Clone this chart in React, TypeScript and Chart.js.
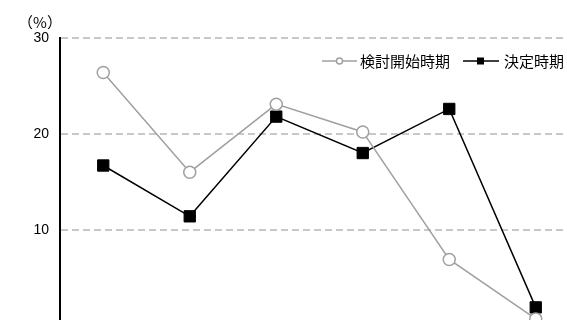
import React, { useEffect, useRef } from "react";
import { Chart, registerables } from "chart.js";

Chart.register(...registerables);

const categories = ["1", "2", "3", "4", "5", "6"];
const kentouValues = [26.4, 16.0, 23.1, 20.2, 6.9, 0.7];
const ketteiValues = [16.7, 11.4, 21.8, 18.0, 22.6, 1.9];
const seriesNames = ["検討開始時期", "決定時期"];
const yTicks = [0, 10, 20, 30];
const yTickLabels = ["", "10", "20", "30"];
const unitLabel = "（%）";

const GRAY = "#a0a0a0";

const overlayPlugin = {
  id: "overlay",
  afterDraw(chart: any) {
    const ctx = chart.ctx;
    ctx.save();
    ctx.fillStyle = "#000";
    ctx.font = "15px 'Noto Sans CJK JP'";
    ctx.textAlign = "center";
    ctx.textBaseline = "middle";
    ctx.fillText(unitLabel, 40, 22);

    const y = 61;
    ctx.strokeStyle = GRAY;
    ctx.lineWidth = 1.5;
    ctx.beginPath();
    ctx.moveTo(322, y);
    ctx.lineTo(357, y);
    ctx.stroke();
    ctx.fillStyle = "#fff";
    ctx.beginPath();
    ctx.arc(339.5, y, 3, 0, Math.PI * 2);
    ctx.fill();
    ctx.stroke();
    ctx.fillStyle = "#000";
    ctx.font = "15px 'Noto Sans CJK JP'";
    ctx.textAlign = "left";
    ctx.fillText(seriesNames[0], 360, y);

    ctx.strokeStyle = "#000";
    ctx.lineWidth = 1.5;
    ctx.beginPath();
    ctx.moveTo(463, y);
    ctx.lineTo(499, y);
    ctx.stroke();
    ctx.fillRect(477, y - 3.5, 7, 7);
    ctx.fillText(seriesNames[1], 504, y);
    ctx.restore();
  },
};

export default function App() {
  const ref = useRef<HTMLCanvasElement>(null);
  useEffect(() => {
    if (!ref.current) return;
    const chart = new Chart(ref.current, {
      type: "line",
      data: {
        labels: categories,
        datasets: [
          {
            label: seriesNames[0],
            data: kentouValues,
            borderColor: GRAY,
            borderWidth: 1.5,
            pointStyle: "circle",
            pointRadius: 6,
            pointBorderWidth: 1.5,
            pointBorderColor: GRAY,
            pointBackgroundColor: "#fff",
            tension: 0,
          },
          {
            label: seriesNames[1],
            data: ketteiValues,
            borderColor: "#000",
            borderWidth: 1.5,
            pointStyle: "rect",
            pointRadius: 8,
            pointBorderWidth: 1,
            pointBorderColor: "#000",
            pointBackgroundColor: "#000",
            tension: 0,
          },
        ],
      },
      options: {
        responsive: false,
        animation: false,
        devicePixelRatio: 1,
        layout: { padding: { top: 38, right: 11, bottom: 18, left: 0 } },
        plugins: { legend: { display: false }, tooltip: { enabled: false } },
        scales: {
          x: {
            type: "category",
            offset: true,
            display: false,
          },
          y: {
            min: yTicks[0],
            max: yTicks[yTicks.length - 1],
            afterFit(scale: any) {
              scale.width = 60;
            },
            afterBuildTicks(scale: any) {
              scale.ticks = yTicks.map((v) => ({ value: v }));
            },
            border: { display: true, color: "#000", width: 2, dash: [7, 4] },
            grid: {
              color: "#c8c8c8",
              lineWidth: 2,
              drawTicks: false,
            },
            ticks: {
              padding: 11,
              color: "#000",
              font: { family: "'Liberation Sans', Arial, sans-serif", size: 14 },
              callback: (v: number) => yTickLabels[yTicks.indexOf(v)] ?? "",
            },
          } as any,
        },
      },
      plugins: [overlayPlugin],
    } as any);
    return () => chart.destroy();
  }, []);
  return (
    <div
      style={{
        position: "fixed",
        left: 0,
        top: 0,
        width: 567,
        height: 320,
        overflow: "hidden",
        background: "#fff",
      }}
    >
      <canvas ref={ref} width={590} height={345} style={{ display: "block" }} />
    </div>
  );
}
